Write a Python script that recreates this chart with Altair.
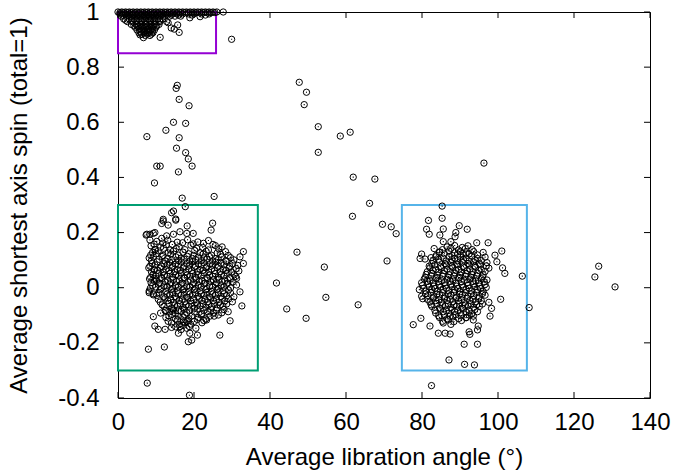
import altair as alt
import pandas as pd

# ---------------- data ----------------
top_pts = [
    (0,1.0),(1,1.0),(2,1.0),(3,1.0),(4,1.0),(5,1.0),(6,1.0),(7,1.0),(8,1.0),(9,1.0),
    (10,1.0),(11,1.0),(12,1.0),(13,1.0),(14,1.0),(15,1.0),(16,1.0),(17,1.0),(18,1.0),
    (19,1.0),(20,1.0),(21,1.0),(22,1.0),(23,1.0),(24,1.0),(25,1.0),(26,1.0),(27.7,1.0),
    (0.5,0.993),(1.8,0.993),(3,0.993),(4.2,0.993),(5.5,0.993),(6.8,0.993),(8,0.993),
    (9.3,0.993),(10.5,0.993),(11.8,0.993),(13,0.993),(14.3,0.993),(15.5,0.993),(17,0.993),
    (18.5,0.993),(20,0.993),(22,0.993),(24,0.993),
    (0.8,0.985),(2.2,0.985),(3.5,0.985),(4.8,0.985),(6,0.985),(7.3,0.985),(8.5,0.985),
    (9.8,0.985),(11,0.985),(12.3,0.985),(13.6,0.985),(15,0.985),(16.5,0.985),(21.6,0.983),
    (1.5,0.975),(3,0.975),(4.3,0.975),(5.5,0.975),(6.8,0.975),(8,0.975),(9.2,0.975),
    (10.5,0.975),(11.8,0.975),(18.9,0.979),
    (2.5,0.965),(3.8,0.965),(5,0.965),(6.2,0.965),(7.4,0.965),(8.6,0.965),(9.8,0.965),
    (11,0.965),(12.8,0.965),(13.2,0.961),
    (3.5,0.955),(4.8,0.955),(6,0.955),(7.2,0.955),(8.4,0.955),(9.6,0.955),(10.8,0.955),(15.7,0.953),
    (4.5,0.945),(5.2,0.947),(6.4,0.945),(7.6,0.945),(8.8,0.945),(10,0.945),(14.0,0.942),
    (5,0.935),(6.2,0.935),(7.4,0.935),(8.6,0.935),(9.6,0.935),(14.8,0.938),
    (5.5,0.925),(6.8,0.925),(8,0.925),(9.2,0.925),(16.1,0.926),
    (5.8,0.917),(7.2,0.915),(8.4,0.915),(6.7,0.907),(11.1,0.908),(29.9,0.901),
]

top_pts2 = [
    (0.5,0.998),(1.5,0.998),(2.5,0.998),(3.5,0.998),(4.5,0.998),(5.5,0.998),(6.5,0.998),
    (7.5,0.998),(8.5,0.998),(9.5,0.998),(10.5,0.998),(11.5,0.998),(12.5,0.998),(13.5,0.998),
    (14.5,0.998),(15.5,0.998),(16.5,0.998),(17.5,0.998),(18.5,0.998),(19.5,0.998),(20.5,0.998),
    (21.5,0.998),(22.5,0.998),(23.5,0.998),(24.5,0.998),(25.5,0.998),
    (1.2,0.989),(2.5,0.989),(3.8,0.989),(5,0.989),(6.2,0.989),(7.5,0.989),(8.8,0.989),
    (10,0.989),(11.2,0.989),(12.5,0.989),(14,0.989),(16,0.989),(19.5,0.989),(23,0.989),
    (2,0.97),(3.6,0.97),(4.9,0.97),(6.1,0.97),(7.3,0.97),(8.5,0.97),(9.7,0.97),(11,0.97),
    (4.2,0.95),(5.4,0.95),(6.6,0.95),(7.8,0.95),(9,0.95),(10.2,0.95),
    (5.6,0.94),(6.8,0.94),(8,0.94),(9.2,0.94),
    (5.8,0.93),(7,0.93),(8.2,0.93),(9,0.93),
    (6.2,0.92),(7.6,0.92),(8.8,0.92),
]

green_pts = [
    (10.2,0.168),(13.1,0.172),(15.6,0.165),(18.3,0.174),(21.0,0.166),(23.8,0.171),
    (8.7,0.152),(11.2,0.147),(12.7,0.156),(16.1,0.149),(19.2,0.154),(22.3,0.146),(25.6,0.153),(27.4,0.148),
    (9.1,0.128),(10.6,0.134),(13.2,0.126),(14.6,0.133),(17.1,0.129),(20.2,0.135),(21.6,0.127),
    (23.2,0.132),(26.1,0.126),(28.3,0.131),
    (8.2,0.108),(11.6,0.113),(13.1,0.106),(15.2,0.112),(16.6,0.107),(18.2,0.114),(19.6,0.105),
    (21.1,0.111),(22.7,0.108),(24.1,0.113),(25.6,0.106),(27.2,0.112),(29.6,0.109),
    (9.0,0.088),(10.3,0.094),(12.1,0.087),(13.6,0.092),(15.1,0.086),(16.7,0.093),(18.1,0.088),
    (19.6,0.094),(21.2,0.086),(22.6,0.091),(24.2,0.087),(25.7,0.093),(27.1,0.089),(28.6,0.095),(30.2,0.087),
    (8.1,0.072),(9.6,0.066),(11.1,0.071),(12.6,0.067),(14.2,0.073),(15.6,0.066),(17.2,0.071),
    (18.6,0.068),(20.1,0.074),(21.6,0.066),(23.2,0.072),(24.6,0.067),(26.1,0.073),(27.7,0.066),
    (29.2,0.071),(31.1,0.069),
    (9.2,0.048),(10.7,0.053),(12.2,0.046),(13.7,0.052),(15.2,0.047),(16.6,0.054),(18.2,0.046),
    (19.7,0.052),(21.1,0.048),(22.7,0.054),(24.1,0.046),(25.6,0.051),(27.2,0.048),(28.7,0.053),(30.6,0.047),
    (8.3,0.032),(10.1,0.027),(11.6,0.033),(13.1,0.026),(14.6,0.031),(16.1,0.028),(17.6,0.034),
    (19.1,0.027),(20.6,0.032),(22.1,0.026),(23.6,0.033),(25.1,0.028),(26.6,0.031),(28.1,0.026),(29.6,0.032),
    (9.1,0.008),(10.6,0.013),(12.1,0.006),(13.6,0.012),(15.1,0.007),(16.6,0.013),(18.1,0.006),
    (19.6,0.011),(21.1,0.008),(22.6,0.014),(24.1,0.006),(25.6,0.012),(27.1,0.007),(28.6,0.013),
    (8.2,-0.012),(11.1,-0.007),(12.6,-0.013),(14.1,-0.006),(15.6,-0.011),(17.1,-0.008),(18.6,-0.014),
    (20.1,-0.006),(21.6,-0.012),(23.1,-0.007),(24.6,-0.013),(26.1,-0.006),(27.6,-0.011),(29.1,-0.008),
    (10.2,-0.028),(12.1,-0.033),(13.6,-0.026),(15.1,-0.032),(16.6,-0.027),(18.1,-0.034),(19.6,-0.026),
    (21.1,-0.031),(22.6,-0.028),(24.1,-0.033),(25.6,-0.027),(27.1,-0.032),(28.6,-0.029),
    (11.1,-0.052),(13.1,-0.047),(14.6,-0.053),(16.1,-0.046),(17.6,-0.051),(19.1,-0.048),(20.6,-0.054),
    (22.1,-0.046),(23.6,-0.052),(25.1,-0.047),(26.6,-0.053),(28.1,-0.048),(30.1,-0.051),
    (12.1,-0.068),(14.1,-0.073),(15.6,-0.066),(17.1,-0.072),(18.6,-0.067),(20.1,-0.074),(21.6,-0.066),
    (23.1,-0.071),(24.6,-0.068),(26.1,-0.073),(27.6,-0.067),
    (11.2,-0.092),(13.6,-0.087),(15.1,-0.093),(16.6,-0.086),(18.1,-0.091),(20.1,-0.088),(22.1,-0.094),
    (23.6,-0.087),(25.1,-0.092),
    (12.6,-0.108),(15.1,-0.113),(17.1,-0.106),(18.6,-0.112),(21.1,-0.108),(23.1,-0.113),
    (14.1,-0.128),(16.1,-0.133),(17.6,-0.126),(19.1,-0.132),(22.1,-0.127),
    (16.6,-0.152),(18.1,-0.147),
    # sparse edge of the cluster
    (14.1,0.272),(14.6,0.278),(11.5,0.233),(11.9,0.242),(13.2,0.227),(15.2,0.245),(18.2,0.224),
    (24.9,0.234),(24.5,0.209),(7.6,0.194),(8.4,0.194),(9.7,0.2),(8.4,0.173),(11.5,0.179),
    (12.8,0.188),(14.6,0.194),(16.3,0.203),(18.1,0.197),(19.8,0.197),(33.0,0.131),(32.1,0.112),
    (33.0,0.088),(32.6,-0.066),(29.5,-0.12),(26.8,-0.172),(8.0,-0.223),(12.2,-0.215),(9.3,-0.105),
    (9.7,-0.139),(10.6,-0.151),(12.4,-0.151),(14.1,-0.144),(15.9,-0.165),(16.3,-0.141),
    (18.5,-0.196),(19.4,-0.19),(20.9,-0.172),(18.9,-0.165),(20.5,-0.147),
    (8.2,-0.018),(9.3,-0.026),(30.5,-0.033),(32.1,-0.015),(31.2,0.01),(31.2,0.034),
    (7.4,0.191),(9.3,0.197),(9.7,0.139),(9.3,0.112),(9.5,0.064),(9.5,0.034),
    (23.3,-0.117),(25.3,-0.103),(27.3,-0.091),(29.0,-0.087),(12.4,-0.083),(14.6,-0.081),
    (18.2,-0.123),(20.9,-0.115),(15.2,0.249),(11.9,0.248),
]

green_pts2 = [
    (9.5,0.158),(11.8,0.162),(14.3,0.157),(17.0,0.163),(19.8,0.159),(22.5,0.161),(25.0,0.157),
    (9.8,0.138),(12.0,0.143),(13.8,0.137),(15.3,0.142),(17.6,0.138),(20.7,0.143),(23.8,0.137),(26.5,0.141),
    (8.6,0.118),(10.0,0.123),(11.9,0.117),(13.9,0.122),(15.9,0.118),(18.6,0.123),(19.9,0.117),
    (22.4,0.122),(24.6,0.118),(27.0,0.121),(29.0,0.117),
    (8.8,0.098),(10.8,0.103),(12.4,0.097),(14.2,0.102),(15.9,0.098),(17.4,0.103),(18.9,0.097),
    (20.4,0.102),(21.9,0.098),(23.4,0.103),(24.9,0.097),(26.4,0.102),(28.4,0.098),(30.5,0.101),
    (8.4,0.078),(9.7,0.083),(11.5,0.077),(12.9,0.082),(14.4,0.078),(15.9,0.083),(17.4,0.077),
    (18.9,0.082),(20.4,0.078),(21.9,0.083),(23.4,0.077),(24.9,0.082),(26.4,0.078),(27.9,0.083),
    (29.4,0.077),(31.5,0.081),
    (8.8,0.058),(10.4,0.063),(11.9,0.057),(13.4,0.062),(14.9,0.058),(16.4,0.063),(17.9,0.057),
    (19.4,0.062),(20.9,0.058),(22.4,0.063),(23.9,0.057),(25.4,0.062),(26.9,0.058),(28.4,0.063),
    (29.9,0.057),(31.8,0.061),
    (8.6,0.038),(9.9,0.043),(11.4,0.037),(12.9,0.042),(14.4,0.038),(15.9,0.043),(17.4,0.037),
    (18.9,0.042),(20.4,0.038),(21.9,0.043),(23.4,0.037),(24.9,0.042),(26.4,0.038),(27.9,0.043),
    (29.4,0.037),(31.0,0.041),
    (8.7,0.018),(9.6,0.023),(10.9,0.017),(12.4,0.022),(13.9,0.018),(15.4,0.023),(16.9,0.017),
    (18.4,0.022),(19.9,0.018),(21.4,0.023),(22.9,0.017),(24.4,0.022),(25.9,0.018),(27.4,0.023),
    (28.9,0.017),(30.3,0.021),
    (8.5,-0.002),(9.9,0.003),(11.4,-0.003),(12.9,0.002),(14.4,-0.002),(15.9,0.003),(17.4,-0.003),
    (18.9,0.002),(20.4,-0.002),(21.9,0.003),(23.4,-0.003),(24.9,0.002),(26.4,-0.002),(27.9,0.003),(29.6,-0.001),
    (9.3,-0.022),(10.8,-0.017),(12.9,-0.023),(14.4,-0.018),(15.9,-0.022),(17.4,-0.017),(18.9,-0.023),
    (20.4,-0.018),(21.9,-0.022),(23.4,-0.017),(24.9,-0.023),(26.4,-0.018),(27.9,-0.022),(29.6,-0.019),
    (10.6,-0.042),(12.4,-0.037),(13.9,-0.043),(15.4,-0.038),(16.9,-0.042),(18.4,-0.037),(19.9,-0.043),
    (21.4,-0.038),(22.9,-0.042),(24.4,-0.037),(25.9,-0.043),(27.4,-0.038),(29.1,-0.041),
    (11.6,-0.062),(13.4,-0.057),(14.9,-0.063),(16.4,-0.058),(17.9,-0.062),(19.4,-0.057),(20.9,-0.063),
    (22.4,-0.058),(23.9,-0.062),(25.4,-0.057),(26.9,-0.063),(28.6,-0.059),
    (12.6,-0.082),(14.4,-0.077),(15.9,-0.083),(17.4,-0.078),(18.9,-0.082),(20.9,-0.077),(22.6,-0.083),
    (24.4,-0.078),(25.9,-0.082),(27.9,-0.079),
    (13.4,-0.102),(14.2,-0.097),(15.9,-0.103),(17.6,-0.098),(19.4,-0.102),(21.9,-0.097),(24.2,-0.103),(26.4,-0.099),
    (13.2,-0.122),(15.6,-0.117),(17.2,-0.123),(18.4,-0.118),(20.1,-0.122),(22.6,-0.119),
    (15.2,-0.142),(17.1,-0.137),(18.8,-0.141),
]

blue_pts = [
    (86.6,0.148),(88.6,0.153),(90.6,0.146),(92.1,0.152),
    (84.6,0.128),(87.1,0.133),(88.6,0.127),(90.1,0.132),(91.6,0.126),(93.6,0.131),(96.1,0.128),
    (83.6,0.112),(85.6,0.107),(87.1,0.113),(88.6,0.106),(90.1,0.111),(91.6,0.108),(93.1,0.114),
    (94.6,0.106),(96.6,0.111),
    (82.6,0.088),(84.6,0.093),(86.1,0.087),(87.6,0.092),(89.1,0.086),(90.6,0.093),(92.1,0.088),
    (93.6,0.094),(95.1,0.087),(97.1,0.091),
    (82.1,0.072),(83.6,0.066),(85.1,0.071),(86.6,0.067),(88.1,0.073),(89.6,0.066),(91.1,0.072),
    (92.6,0.067),(94.1,0.074),(95.6,0.066),(97.6,0.071),
    (81.1,0.048),(82.6,0.053),(84.1,0.046),(85.6,0.052),(87.1,0.047),(88.6,0.054),(90.1,0.046),
    (91.6,0.051),(93.1,0.048),(94.6,0.053),(96.1,0.047),
    (80.6,0.032),(82.1,0.027),(83.6,0.033),(85.1,0.026),(86.6,0.031),(88.1,0.028),(89.6,0.034),
    (91.1,0.027),(92.6,0.032),(94.1,0.026),(95.6,0.033),(97.1,0.028),
    (80.1,0.008),(81.6,0.013),(83.1,0.006),(84.6,0.012),(86.1,0.007),(87.6,0.013),(89.1,0.006),
    (90.6,0.011),(92.1,0.008),(93.6,0.014),(95.1,0.006),(96.6,0.012),
    (81.1,-0.012),(82.6,-0.007),(84.1,-0.013),(85.6,-0.006),(87.1,-0.011),(88.6,-0.008),(90.1,-0.014),
    (91.6,-0.006),(93.1,-0.012),(94.6,-0.007),(96.1,-0.013),
    (81.6,-0.028),(83.1,-0.033),(84.6,-0.026),(86.1,-0.032),(87.6,-0.027),(89.1,-0.034),(90.6,-0.026),
    (92.1,-0.031),(93.6,-0.028),(95.1,-0.033),(96.6,-0.027),
    (82.1,-0.052),(83.6,-0.047),(85.1,-0.053),(86.6,-0.046),(88.1,-0.051),(89.6,-0.048),(91.1,-0.054),
    (92.6,-0.046),(94.1,-0.052),(95.6,-0.047),
    (82.6,-0.068),(84.6,-0.073),(86.1,-0.066),(87.6,-0.072),(89.1,-0.067),(90.6,-0.074),(92.1,-0.066),
    (93.6,-0.071),(95.1,-0.068),
    (83.6,-0.092),(85.6,-0.087),(87.1,-0.093),(88.6,-0.086),(90.1,-0.091),(91.6,-0.088),(93.1,-0.094),
    (94.6,-0.087),
    (84.6,-0.108),(86.6,-0.113),(88.1,-0.106),(89.6,-0.112),(91.6,-0.108),
    (85.6,-0.128),(87.6,-0.133),
    # sparse edge of the cluster
    (85.3,0.296),(81.7,0.244),(85.3,0.252),(81.2,0.212),(81.9,0.194),(85.6,0.213),(84.7,0.191),
    (89.8,0.225),(88.9,0.200),(88.7,0.185),(91.9,0.212),(94.4,0.163),(97.4,0.163),(85.6,0.167),
    (87.6,0.167),(83.2,0.142),(84.6,0.13),(79.9,0.122),(79.5,0.106),(80.8,0.104),(82.4,0.109),
    (101.0,0.133),(99.2,0.118),(99.7,0.094),(101.2,0.072),(101.8,0.052),(100.7,-0.042),
    (79.3,-0.007),(79.9,-0.031),(80.2,-0.04),(79.7,-0.111),(77.7,-0.134),(82.1,-0.139),
    (84.3,-0.165),(86.1,-0.165),(87.4,-0.168),(92.4,-0.16),(92.6,-0.169),(94.6,-0.153),
    (91.1,-0.205),(94.6,-0.205),(87.1,-0.262),(91.2,-0.278),(93.8,-0.28),(97.9,-0.103),
    (98.3,-0.075),(97.6,-0.053),(91.6,-0.109),(93.5,-0.117),(94.8,-0.139),(93.5,-0.103),
    (106.4,0.042),(108.2,-0.072),
]

blue_pts2 = [
    (85.4,0.138),(87.6,0.143),(89.6,0.137),(91.4,0.142),(93.2,0.138),
    (83.8,0.118),(85.9,0.123),(87.9,0.117),(89.4,0.122),(90.9,0.118),(92.4,0.123),(94.6,0.119),
    (82.9,0.098),(84.4,0.103),(86.4,0.097),(87.9,0.102),(89.4,0.098),(90.9,0.103),(92.4,0.097),
    (93.9,0.102),(95.6,0.099),
    (81.9,0.078),(83.4,0.083),(84.9,0.077),(86.4,0.082),(87.9,0.078),(89.4,0.083),(90.9,0.077),
    (92.4,0.082),(93.9,0.078),(95.4,0.083),(96.9,0.079),
    (81.4,0.058),(82.9,0.063),(84.4,0.057),(85.9,0.062),(87.4,0.058),(88.9,0.063),(90.4,0.057),
    (91.9,0.062),(93.4,0.058),(94.9,0.063),(96.6,0.059),
    (80.9,0.038),(82.4,0.043),(83.9,0.037),(85.4,0.042),(86.9,0.038),(88.4,0.043),(89.9,0.037),
    (91.4,0.042),(92.9,0.038),(94.4,0.043),(95.9,0.039),
    (79.9,0.018),(81.4,0.023),(82.9,0.017),(84.4,0.022),(85.9,0.018),(87.4,0.023),(88.9,0.017),
    (90.4,0.022),(91.9,0.018),(93.4,0.023),(94.9,0.017),(96.4,0.021),
    (80.4,-0.002),(81.9,0.003),(83.4,-0.003),(84.9,0.002),(86.4,-0.002),(87.9,0.003),(89.4,-0.003),
    (90.9,0.002),(92.4,-0.002),(93.9,0.003),(95.4,-0.003),(96.9,0.001),
    (80.9,-0.022),(82.4,-0.017),(83.9,-0.023),(85.4,-0.018),(86.9,-0.022),(88.4,-0.017),(89.9,-0.023),
    (91.4,-0.018),(92.9,-0.022),(94.4,-0.017),(95.9,-0.021),
    (81.4,-0.042),(82.9,-0.037),(84.4,-0.043),(85.9,-0.038),(87.4,-0.042),(88.9,-0.037),(90.4,-0.043),
    (91.9,-0.038),(93.4,-0.042),(94.9,-0.039),
    (82.4,-0.062),(83.9,-0.057),(85.4,-0.063),(86.9,-0.058),(88.4,-0.062),(89.9,-0.057),(91.4,-0.063),
    (92.9,-0.058),(94.4,-0.062),(95.9,-0.059),
    (83.4,-0.082),(84.9,-0.077),(86.4,-0.083),(87.9,-0.078),(89.4,-0.082),(90.9,-0.077),(92.4,-0.083),(93.9,-0.079),
    (84.4,-0.102),(85.9,-0.097),(87.4,-0.103),(88.9,-0.098),(90.4,-0.102),(92.4,-0.099),
    (85.4,-0.122),(86.9,-0.117),(88.4,-0.123),(90.4,-0.119),
]

other_pts = [
    (47.7,0.745),(49.6,0.709),(49.0,0.664),(52.7,0.584),(58.5,0.550),(61.1,0.564),(52.7,0.491),
    (96.3,0.452),(61.9,0.401),(67.6,0.394),(66.2,0.306),(61.7,0.259),(69.6,0.230),(71.9,0.221),
    (73.2,0.196),(47.1,0.129),(54.3,0.075),(70.8,0.097),(41.7,0.017),(54.7,-0.035),(63.2,-0.062),
    (44.4,-0.077),(49.5,-0.111),(126.5,0.078),(125.5,0.039),(130.8,0.003),
    (7.7,-0.346),(18.8,-0.39),(82.5,-0.355),
    (15.6,0.734),(15.3,0.723),(16.1,0.683),(18.7,0.660),(14.6,0.600),(17.8,0.596),(12.6,0.571),
    (7.6,0.548),(16.1,0.544),(15.4,0.506),(17.8,0.490),(18.5,0.467),(10.2,0.441),(11.1,0.441),
    (19.5,0.441),(15.9,0.420),(9.6,0.380),(16.9,0.325),(25.3,0.331),(17.7,0.294),
]

box_x0 = [0.0, 0.0, 74.7]
box_x1 = [25.8, 36.8, 107.6]
box_y0 = [0.85, -0.3, -0.3]
box_y1 = [1.0, 0.3, 0.3]
box_colors = ["#9400D3", "#009E73", "#56B4E9"]

x_ticks = [0, 20, 40, 60, 80, 100, 120, 140]
y_ticks = [-0.4, -0.2, 0, 0.2, 0.4, 0.6, 0.8, 1.0]

# ---------------- chart ----------------
W, H = 532, 386
FONT = "Liberation Sans"

all_pts = top_pts + top_pts2 + green_pts + green_pts2 + blue_pts + blue_pts2 + other_pts
pts = pd.DataFrame(all_pts, columns=["x", "y"])
boxes = pd.DataFrame({"x": box_x0, "x1": box_x1, "y": box_y0, "y1": box_y1, "c": box_colors})
xt = pd.DataFrame({"x": x_ticks})
yt = pd.DataFrame({"y": y_ticks})

xscale = alt.Scale(domain=[0, 140], nice=False, zero=False)
yscale = alt.Scale(domain=[-0.4, 1.0], nice=False, zero=False)

x_axis = alt.Axis(
    values=x_ticks, ticks=False, domain=False, grid=False,
    labelFont=FONT, labelFontSize=24, labelColor="black", labelPadding=12,
    labelFlush=False, labelOverlap=False, labelBound=False,
    title="Average libration angle (°)", titleFont=FONT, titleFontSize=24,
    titleFontWeight="normal", titleColor="black",
    titleX=W / 2, titleY=66, titleBaseline="alphabetic",
)
y_axis = alt.Axis(
    values=y_ticks, ticks=False, domain=False, grid=False,
    labelFont=FONT, labelFontSize=24, labelColor="black", labelPadding=19,
    labelFlush=False, labelOverlap=False, labelBound=False,
    labelExpr="datum.value < 0 ? '-' + format(-datum.value, '.1~f') : format(datum.value, '.1~f')",
    title="Average shortest axis spin (total=1)", titleFont=FONT, titleFontSize=24,
    titleFontWeight="normal", titleColor="black",
    titleX=-92, titleY=H / 2, titleBaseline="alphabetic", titleAngle=-90,
)

X = alt.X("x:Q", scale=xscale, axis=x_axis)
Y = alt.Y("y:Q", scale=yscale, axis=y_axis)

box_layer = alt.Chart(boxes).mark_rect(fillOpacity=0, strokeWidth=2).encode(
    x=X, x2="x1:Q", y=Y, y2="y1:Q",
    stroke=alt.Stroke("c:N", scale=None),
)

circles = alt.Chart(pts).mark_point(
    shape="circle", filled=False, size=40, stroke="black", strokeWidth=1, opacity=1
).encode(x=X, y=Y)

dots = alt.Chart(pts).mark_point(
    shape="square", filled=True, size=1.2, color="black", opacity=1
).encode(x=X, y=Y)

TL = 6
tick_left = alt.Chart(yt).mark_rule(color="black", strokeWidth=1).encode(
    y=Y, x=alt.value(0), x2=alt.value(TL))
tick_right = alt.Chart(yt).mark_rule(color="black", strokeWidth=1).encode(
    y=Y, x=alt.value(W), x2=alt.value(W - TL))
tick_bottom = alt.Chart(xt).mark_rule(color="black", strokeWidth=1).encode(
    x=X, y=alt.value(H), y2=alt.value(H - TL))
tick_top = alt.Chart(xt).mark_rule(color="black", strokeWidth=1).encode(
    x=X, y=alt.value(0), y2=alt.value(TL))

chart = alt.layer(
    box_layer, tick_left, tick_right, tick_bottom, tick_top, circles, dots
).properties(
    width=W, height=H,
    autosize=alt.AutoSizeParams(type="none"),
    padding={"left": 118, "top": 12, "right": 26, "bottom": 73},
    background="white",
).configure_view(stroke="black", strokeWidth=1)

chart.save("out.html", embed_options={"renderer": "svg", "actions": False})
